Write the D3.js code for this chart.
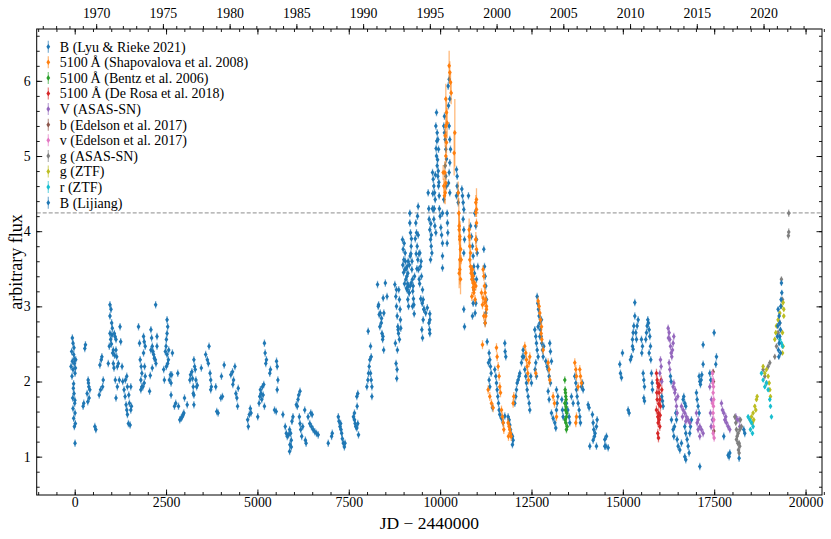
<html>
<head>
<script src="https://d3js.org/d3.v7.min.js"></script>
<style>
  body { margin: 0; background: #fff; }
  svg text { font-family: "Liberation Serif", "DejaVu Serif", serif; fill: #000; }
  .axis path { display: none; }
  .axis line { stroke: #000; stroke-width: 0.9; }
  .axis text { font-size: 13.8px; }
</style>
</head>
<body>
<div id="chart"></div>
<script>
// [JD - 2440000, flux, (optional error)]
const bLyu = [
  [-64,2.58],[-46,2.51],[-83,2.40],[-28,2.36],[-64,2.27],[-101,2.20],[-9,2.24],[-46,2.16],[9,2.11],[-74,2.07],[28,2.29],
  [-37,1.91],[-18,1.84],[-55,1.78],[0,1.71],[-46,1.64],[9,1.58],[-28,1.51],[18,1.44],[-9,1.40],[9,1.18],
  [-20,2.45],[-5,2.30],[20,2.18],[-30,1.97],[5,1.75],
  [230,1.67],[248,1.71],[294,2.49],[276,2.44],
  [368,2.02],[386,1.93],[340,1.84],[395,1.78],[358,1.73],[414,1.89],[377,1.98],
  [551,1.40],[579,1.36],
  [671,1.82],[708,1.89],[689,2.22],[726,2.29],[744,2.33],[763,1.93],[781,2.02],
  [919,2.24],[947,2.47],[965,2.64],[965,2.87],[965,3.02],[993,2.96],[1011,2.78],[984,2.56],[1029,2.71],[1057,2.42],
  [1084,2.64],[1057,2.24],[1103,2.60],[1038,2.38],[1075,2.18],[1130,2.42],[1149,2.33],[1130,2.56],[1167,2.20],[1195,2.24],
  [1222,2.02],[1112,2.02],[1130,1.78],[1167,1.93],[1241,2.73],[1259,2.53],[1296,2.20],[1314,2.00],[1351,1.89],[1379,1.80],
  [1406,1.69],[1425,1.62],[1443,1.56],[1470,1.44],[1516,1.42],[1388,2.02],[1443,1.93],[1480,1.82],[1498,1.71],[1535,1.62],
  [1553,1.67],[1535,1.93],[1425,2.07],[1005,2.50],[1020,2.62],[1090,2.35],
  [1746,2.73],[1774,2.51],[1792,2.29],[1820,2.20],[1838,2.11],[1810,2.02],[1866,1.93],
  [1884,2.60],[1902,2.53],[1930,2.47],[1884,2.38],[1912,2.20],[1930,2.07],[1902,1.98],[1838,1.93],[1810,1.89],
  [2049,1.87],[2068,2.08],
  [2086,2.69],[2105,2.58],[2123,2.47],[2086,2.42],[2141,2.40],[2160,2.36],[2178,2.31],[2206,2.29],[2224,2.24],
  [2215,3.02],[2123,2.18],[2252,2.47],[2252,2.60],
  [2435,2.16],[2454,2.02],
  [2481,2.40],[2500,2.47],[2509,2.56],[2527,2.64],[2527,2.82],[2545,2.73],[2527,2.36],[2564,2.29],[2573,2.42],[2545,2.24],[2509,2.20],
  [2619,2.09],[2591,2.02],[2637,1.98],[2655,2.09],[2637,1.82],[2674,2.38],
  [2730,1.67],[2765,1.71],[2821,2.11],[2840,1.67],[2876,1.49],[2913,1.51],[2940,1.53],[2968,1.56],[2987,1.58],[3005,1.78],[3079,1.69],
  [3152,2.02],[3170,2.09],[3207,2.13],[3225,2.04],[3244,1.93],[3244,1.84],[3262,1.82],[3262,1.69],
  [3262,2.29],[3281,2.20],[3299,2.16],[3317,2.02],[3336,1.93],[3354,1.95],
  [3465,2.18],
  [3584,2.36],[3630,2.29],[3676,2.47],[3658,2.24],[3704,2.11],[3722,2.02],[3722,1.89],[3740,1.93],
  [3860,1.93],[3887,1.60],[3924,1.58],[3998,1.78],[4043,1.80],[4016,2.07],[4090,2.22],
  [4273,2.09],[4319,2.13],[4347,2.02],[4384,2.20],[4328,1.96],[4411,1.84],[4438,1.78],[4457,1.67],[4475,1.91],
  [4733,1.49],[4751,1.40],[4779,1.56],[4806,1.64],[4825,1.58],
  [5009,1.53],[5046,1.71],[5064,1.80],[5082,1.89],[5101,1.84],[5119,1.76],[5137,1.93],[5156,1.82],[5174,1.96],[5192,1.67],
  [5192,2.51],[5211,2.38],[5229,2.24],[5247,2.29],
  [5339,2.11],[5357,2.16],
  [5468,1.62],[5514,1.60],[5523,2.27],[5541,2.20],[5560,2.02],[5541,1.89],
  [5698,1.56],
  [5762,1.40],[5790,1.31],[5817,1.27],[5854,1.29],[5881,1.36],[5909,1.31],[5927,1.22],[5890,1.16],[5927,1.13],[5881,1.07],
  [5945,1.47],[5973,1.53],
  [6065,1.69],[6093,1.67],[6111,1.76],[6130,1.82],[6166,1.87],
  [6148,1.53],[6166,1.44],[6185,1.36],[6212,1.27],[6240,1.40],[6295,1.62],[6313,1.22],[6332,1.18],
  [6387,1.53],[6433,1.44],[6479,1.40],[6525,1.36],[6571,1.33],[6617,1.31],[6663,1.29],[6460,1.58],[6497,1.56],
  [6938,1.18],[7030,1.27],[7048,1.31],
  [7214,1.53],[7232,1.47],[7259,1.40],[7287,1.36],[7305,1.31],[7324,1.24],[7351,1.18],[7380,1.13],[7278,1.44],[7397,1.18],
  [7628,1.53],[7656,1.49],[7674,1.44],[7692,1.40],[7720,1.38],[7747,1.44],[7766,1.29],[7656,1.58],[7720,1.80],[7747,1.84],[7729,1.67],
  [7995,1.93],[8023,2.02],[8041,2.11],[8059,2.20],[8077,2.29],[8096,2.11],[8114,2.02],[8133,1.93],[8031,2.67],[8096,2.47],[8114,2.33],[8133,1.80],
  [8317,3.02],[8363,2.91],[8390,2.78],[8409,2.64],[8427,2.56],[8455,2.42],[8436,2.60],
  [8501,3.31],[8547,3.13],
  [8776,2.51],[8794,2.24],[8822,2.16],[8813,2.04],[8831,2.42],[8850,2.69],
  [8868,3.22],[8886,3.09],[8904,2.96],[8914,2.82],[8886,2.56],[8923,2.71],
  [8287,3.29],[8306,3.00],[8333,2.89],[8351,2.73],[8397,2.84],[8442,3.11],[8460,2.91],
  [8761,3.29],[8788,3.13],[8806,3.00],[8825,2.87],[8843,2.73],[8861,2.64],[8806,3.22],
  [8971,3.89],[8989,3.76],[9007,3.62],[9034,3.49],[9062,3.36],[9080,3.24],[9016,3.84],[9043,3.71],[9098,3.53],[9117,3.44],
  [9135,3.27],[9153,3.18],[9171,4.24],[9171,4.11],[9189,3.98],[9208,3.80],[9180,3.67],[9226,3.49],[9244,3.36],[9262,3.27],
  [9281,3.02],[9244,3.00],[9098,3.22],[9116,3.09],[9135,3.00],[9153,3.18],[9180,3.27],[9208,3.31],
  [8980,3.55],[9000,3.45],[9025,3.30],[9050,3.60],[9070,3.50],[9090,3.40],[9110,3.30],[9125,3.60],[9160,3.55],[9200,3.70],
  [9215,3.90],[9230,3.60],[9250,3.20],[9270,3.10],[9290,2.90],[9300,3.40],[9320,3.90],[9345,3.70],[9365,3.50],[9400,3.95],
  [9420,3.70],[9440,3.30],[9470,3.10],[9480,3.60],
  [9335,4.11],[9354,3.98],[9372,3.80],[9390,3.62],[9408,3.49],[9427,3.36],[9399,4.33],[9381,4.20],[9445,3.71],[9463,3.53],
  [9490,3.40],[9518,3.22],[9536,3.09],[9554,2.96],[9536,2.82],[9500,2.69],[9518,2.58],
  [9511,3.04],[9558,2.96],[9605,2.91],[9650,2.98],[9694,2.78],[9710,2.69],[9720,2.82],
  [9673,4.51],[9700,4.16],[9718,4.02],[9738,3.89],[9756,3.80],[9774,3.71],[9738,3.62],[9718,2.64],[9718,2.90],
  [9690,4.30],[9745,4.10],[9760,3.95],[9790,4.30],[9800,4.50],[9840,4.30],[9870,4.75],[9890,5.10],[9910,5.20],[9930,4.95],
  [9950,4.80],[9965,4.65],[9980,4.30],[10000,4.20],[10020,4.05],[10040,3.95],
  [9792,4.78],[9810,4.69],[9828,4.60],[9847,4.51],[9865,4.42],[9810,4.29],[9828,4.16],[9856,4.07],[9883,3.98],
  [9883,5.40],[9901,5.58],[9919,5.31],[9938,5.22],[9956,5.09],[9901,5.00],[9919,4.87],[9938,4.73],[9956,4.60],[9974,4.47],
  [10065,4.24],[10065,3.84],[10065,3.67],[10065,3.51],
  [10101,5.40],[10119,5.31],[10138,5.22],[10156,5.09],[10174,4.96],[10138,4.87],[10156,4.73],[10174,4.60],[10119,5.53],[10101,4.42],
  [10192,4.24],[10201,4.11],[10210,3.98],[10192,3.84],
  [10220,5.93],[10247,6.02],[10265,5.76],[10229,5.67],[10247,5.40],[10265,5.22],[10284,5.09],[10265,4.91],[10247,4.78],[10229,4.64],[10265,4.51],
  [10448,4.82],[10466,4.73],[10466,4.60],[10448,4.47],[10494,4.51],[10494,4.38],
  [10594,4.56],[10612,4.47],[10630,4.38],[10648,4.29],[10630,4.16],[10648,4.02],[10667,3.89],[10648,3.71],
  [10776,4.47],
  [10831,4.07],[10858,3.93],[10885,3.80],[10904,3.67],[10922,3.53],[10940,3.44],[10904,3.36],[10922,3.22],
  [10949,4.24],[10977,4.07],[10995,3.89],[11013,3.71],[11031,3.53],[10995,3.36],[10977,3.04],[10958,2.91],[10904,3.04],
  [11196,3.76],[11214,3.53],[11232,3.40],[11250,3.27],[11269,3.09],[11250,2.91],[11232,2.78],
  [10648,2.96],[10667,2.73],[10885,2.87],
  [11287,2.53],[11341,2.38],[11360,2.29],[11378,2.20],[11396,2.11],[11341,2.02],[11360,1.93],[11323,2.25],
  [11432,1.65],
  [11496,2.16],[11524,2.07],[11542,1.98],[11560,1.89],[11578,1.80],[11597,1.71],[11615,1.62],
  [11633,1.56],[11679,1.51],[11725,1.45],[11770,1.54],
  [11770,2.51],[11779,2.40],[11797,2.33],
  [11861,1.53],[11888,1.49],[11907,1.42],[11925,1.36],[11952,1.29],[11979,1.27],[11998,1.22],[11979,1.16],
  [12044,1.71],[12071,1.80],[12089,1.89],[12107,1.98],[12135,2.02],[12162,2.07],[12180,2.11],
  [12226,2.25],[12253,2.33],[12272,2.42],[12290,2.33],[12317,2.16],[12344,2.07],[12363,1.98],[12381,1.89],[12408,1.80],[12436,1.71],[12454,1.62],
  [12481,2.07],[12500,1.98],
  [12591,2.69],[12618,2.60],[12636,2.51],[12655,2.42],[12682,2.33],[12618,2.25],[12600,2.16],[12636,2.07],
  [12655,3.13],[12673,3.04],[12691,2.96],[12709,2.87],[12728,2.78],[12746,2.69],[12764,2.60],[12782,2.51],[12801,2.42],
  [12819,2.33],[12837,2.47],[12773,2.82],[12728,2.60],[12682,2.73],
  [12892,2.27],[12928,2.20],[12956,2.16],[12983,2.07],[13019,1.98],[13047,2.27],[13001,2.51],[13019,2.40],
  [12956,1.87],[12983,1.76],
  [13047,1.58],[13092,1.51],[13138,1.45],[13165,1.38],[13184,1.62],[13202,1.71],[13184,1.89],[13220,1.80],
  [13330,1.76],[13348,1.62],[13366,1.53],
  [13457,1.71],[13494,1.62],[13530,1.53],[13548,1.45],
  [13594,1.80],[13640,1.71],
  [13685,2.07],[13713,1.98],[13731,1.89],[13749,1.80],[13776,1.71],[13804,1.62],[13822,1.53],[13840,1.45],
  [13868,1.93],[13895,1.98],[13913,1.89],
  [14050,1.69],[14077,1.65],
  [14168,1.56],[14187,1.45],[14205,1.36],[14223,1.27],[14241,1.31],[14278,1.40],[14296,1.49],
  [14096,1.14],[14187,1.22],[14278,1.14],
  [14506,1.14],[14552,1.27],[14507,1.23],[14534,1.14],[14598,1.12],
  [14917,2.23],[14935,2.11],[14963,2.05],[14990,2.38],
  [15145,1.62],[15172,1.58],
  [15209,2.29],[15236,2.33],[15264,2.47],[15282,2.65],[15300,2.74],[15328,2.87],[15328,3.05],[15355,2.65],[15373,2.56],
  [15391,2.74],[15419,2.82],[15264,2.56],[15282,2.43],
  [15510,2.56],[15537,2.47],[15519,2.38],
  [15556,2.11],[15574,2.02],[15592,1.93],[15574,1.78],[15592,1.74],
  [15628,2.56],[15647,2.65],[15665,2.74],[15683,2.82],[15701,2.78],[15720,2.69],[15738,2.60],[15756,2.47],[15720,2.38],[15765,2.29],
  [15784,2.11],[15802,1.98],[15811,1.89],
  [16066,1.80],[16085,1.74],[16103,1.67],
  [16303,2.07],[16322,2.00],
  [16331,1.49],[16376,1.36],[16395,1.27],[16413,1.40],
  [16450,1.58],[16468,1.49],
  [16486,1.23],[16513,1.14],[16559,1.09],[16604,1.18],
  [16650,1.76],[16668,1.80],[16695,1.71],[16723,1.67],
  [16695,1.40],[16723,1.31],[16759,1.23],[16787,1.14],[16814,1.05],[16832,1.31],[16851,1.40],[16878,1.49],
  [16695,1.00],[16723,0.96],
  [17014,1.85],[17033,1.76],[17060,1.67],[17088,1.58],
  [17088,2.07],[17106,2.00],[17124,1.96],[17143,2.02],[17161,2.09],[17197,2.23],
  [17106,0.87],[17197,2.49],
  [17380,2.11],[17407,2.02],[17498,2.65],[17544,2.23],[17562,2.33],
  [17763,1.27],[17881,1.02],[17908,1.00],[17927,1.05],[18182,0.98],[18310,1.36],[18337,1.31]
];

const shapovalova = [
  [10156,5.76,0.2],[10174,5.58,0.2],[10192,5.44,0.2],[10156,5.40,0.15],[10138,5.27,0.15],[10174,5.18,0.15],[10156,5.00,0.15],
  [10128,4.78,0.15],[10156,4.64,0.15],[10138,4.51,0.15],
  [10247,6.20,0.2],[10265,6.11,0.15],[10284,5.98,0.15],[10302,5.84,0.15],
  [10402,5.31,0.45],[10384,5.04,0.3],
  [10083,4.78,0.1],[10101,4.60,0.1],[10119,4.47,0.1],
  [10494,4.51,0.15],[10512,4.24,0.2],
  [10521,4.07,0.2],[10539,3.89,0.25],[10558,3.76,0.2],[10539,3.62,0.2],[10521,3.44,0.2],
  [10794,3.93,0.15],[10812,3.80,0.15],
  [10831,3.53,0.1],[10849,3.44],[10867,3.36],[10885,3.49],[10904,3.40],[10940,3.31],[10922,3.18],[10958,3.09],[10977,3.27],
  [10977,4.38,0.1],[10995,4.29,0.1],[10977,3.89,0.1],
  [11177,3.49],[11196,3.40],[11214,3.27],[11232,3.18],[11250,3.09],[11269,3.00],[11250,2.87],[11232,2.78],
  [10521,4.02,0.2],[10539,3.93,0.2],[10558,3.76],[10576,3.62],[10539,3.49,0.2],[10558,3.36,0.2],
  [10794,4.02,0.15],[10812,3.93],[10831,3.71],[10812,3.62],
  [10858,3.49],[10885,3.40],[10904,3.31],[10922,3.22],[10867,3.13],[10904,3.25],
  [10995,4.42,0.15],[10977,4.25],[10995,4.11],[10977,3.89],[10995,3.76],
  [11132,3.18],[11177,3.11],[11223,3.05],[11268,2.96],[11196,2.87],[11159,3.02],
  [11159,2.49],
  [11314,1.89],[11360,1.80],[11405,1.71],[11451,1.65],
  [11542,2.45],[11560,2.33],[11588,2.20],[11615,2.07],[11633,1.93],[11652,1.85],
  [11679,1.62],[11706,1.53],[11725,1.45],[11743,1.36],
  [11861,1.45],[11888,1.40],[11907,1.36],[11925,1.31],[11943,1.27],[11870,1.27],
  [11998,1.71],[12016,1.80],
  [12317,2.47],[12344,2.38],[12363,2.29],[12381,2.20],[12399,2.11],[12417,2.02],[12436,2.25],[12454,2.33],
  [12618,2.11],
  [12682,3.07],[12709,3.00],[12728,2.91],[12746,2.82],[12773,2.73],[12764,2.64],[12782,2.56],[12819,2.42],
  [12956,2.25],[12983,2.16],[13001,2.02],
  [13092,1.80],[13129,1.71],[13184,1.53],
  [13685,2.25],[13713,2.16],[13731,2.07],[13776,1.93],[13822,2.16],[13840,2.07],[13868,1.98],
  [13731,1.53],[13713,1.45]
];

const bentz = [
  [13412,2.02],[13421,1.89],[13440,1.80],[13412,1.71],[13430,1.62],[13457,1.53],[13440,1.45],[13457,1.36],
  [13476,1.40],[13421,1.49],[13448,1.76],[13466,1.58],[13430,1.85],[13448,1.66]
];

const deRosa = [
  [15920,2.11],[15939,2.02],[15966,1.93],[15993,1.85],[16012,1.76],[16030,1.67],[15975,1.58],[15993,1.49],[16012,1.40],
  [15957,1.31],[15975,1.25],[16048,2.02],[16066,1.89],[15939,1.76],[15920,1.62],[15957,1.53],[15948,1.98],[15984,1.70],
  [16003,1.95],[15966,1.45],[16021,1.55],[15930,1.85]
];

const vAsassn = [
  [16030,2.29],[16048,2.20],[16012,2.11],[16066,2.00],
  [16240,2.71],[16267,2.65],[16285,2.56],[16303,2.47],[16322,2.38],[16340,2.33],[16358,2.42],[16376,2.51],[16395,2.60],[16249,2.58],
  [16267,2.25],[16285,2.16],
  [16376,1.93],[16422,1.85],[16450,1.76],[16468,1.67],[16486,1.58],[16431,1.89],[16395,1.98],[16504,1.80],
  [16604,1.67],[16650,1.62],[16695,1.58],[16741,1.53],[16787,1.49],[16832,1.45],[16632,1.53],[16723,1.47],
  [17014,1.58],[17060,1.49],[17106,1.40],[17152,1.36],[17197,1.31],[17060,1.36],[17106,1.27],[17033,1.45],
  [17380,1.93],[17425,1.76],[17398,1.58],[17453,1.49],[17416,1.40],
  [17699,1.71],[17726,1.62],[17763,1.58],[17790,1.49],[17836,1.45],[17881,1.40],[17927,1.36],[17817,1.53],
  [18091,1.53],[18127,1.49],[18182,1.49],[18200,1.40]
];

const bEdelson = [[17471,2.13],[17489,1.34],[17480,2.00]];

const vEdelson = [
  [17453,2.11],[17471,2.02],[17480,1.93],[17471,1.85],[17489,1.76],[17480,1.67],[17471,1.58],[17489,1.49],
  [17480,1.40],[17471,1.31],[17498,1.25],[17462,1.98],[17453,1.71]
];

const gAsassn = [
  [18064,1.53],[18091,1.45],[18109,1.36],[18127,1.27],[18146,1.18],[18164,1.09],[18182,1.05],[18200,1.14],[18155,1.31],
  [18200,1.36],[18219,1.49],[18246,1.40],[18109,1.23],[18182,1.18],
  [18839,2.16],[18885,2.07],[18931,1.98],[18976,2.20],[19022,2.25],
  [19158,2.33],[19204,2.47],[19249,2.65],[19295,2.78],[19340,3.36],[19368,3.09],
  [19540,4.24,0.05],[19540,3.99,0.05],[19530,3.94,0.05]
];

const gZtf = [
  [18520,1.53],[18565,1.58],[18611,1.67],[18657,1.76],[18675,1.80],[18638,1.62],[18583,1.49],[18547,1.45],
  [18839,2.20],[18885,2.11],[18931,2.16],[18976,2.07],[19004,1.98],[19022,1.89],[19040,1.80],
  [19158,2.56],[19186,2.65],[19204,2.74],[19249,2.82],[19295,2.91],[19340,3.00],[19386,3.05],[19404,2.87],
  [19368,2.65],[19386,2.47],[19368,2.38],[19404,2.96]
];

const rZtf = [
  [18428,1.53],[18474,1.49],[18520,1.45],[18565,1.40],[18492,1.36],[18547,1.31],
  [18793,2.11],[18839,2.02],[18885,1.93],[18931,1.98],[18976,1.89],[19022,1.76],[19040,1.67],[19067,1.53],
  [19295,2.56],[19340,2.51],[19368,2.47]
];

const bLijiang = [
  [19249,2.96],[19277,2.87],[19295,2.78],[19313,2.69],[19331,3.09],[19350,3.18],[19340,3.31],[19322,3.00],
  [19295,2.60],[19277,2.51],[19258,2.42],[19240,2.74],[19313,2.38],[19230,2.60],[19268,2.33]
];

const seriesLabels = [
  'B (Lyu & Rieke 2021)',
  '5100\u2009Å (Shapovalova et al. 2008)',
  '5100\u2009Å (Bentz et al. 2006)',
  '5100 Å (De Rosa et al. 2018)',
  'V (ASAS-SN)',
  'b (Edelson et al. 2017)',
  'v (Edelson et al. 2017)',
  'g (ASAS-SN)',
  'g (ZTF)',
  'r (ZTF)',
  'B (Lijiang)'
];
const seriesData = [bLyu, shapovalova, bentz, deRosa, vAsassn, bEdelson, vEdelson, gAsassn, gZtf, rZtf, bLijiang];
const seriesErr = [0.05, 0.06, 0.05, 0.06, 0.05, 0.04, 0.05, 0.04, 0.03, 0.03, 0.04];
const colors = ['#1f77b4','#ff7f0e','#2ca02c','#d62728','#9467bd','#8c564b','#e377c2','#7f7f7f','#bcbd22','#17becf','#1f77b4'];

const xLim = [-1040, 20450];
const yLim = [0.49, 6.69];
const refLevel = 4.243;
const yearTicks = d3.range(1966, 2024);
const yearLabels = d3.range(1970, 2021, 5);

const width = 831, height = 539;
const margin = { top: 29, right: 9, bottom: 44, left: 36.7 };
const iw = width - margin.left - margin.right;
const ih = height - margin.top - margin.bottom;

const x = d3.scaleLinear().domain(xLim).range([0, iw]);
const y = d3.scaleLinear().domain(yLim).range([ih, 0]);
const yearToJd = yr => (yr - 1970) * 365.25 + 587.5;

const svg = d3.select('#chart').append('svg')
    .attr('width', width)
    .attr('height', height);
const g = svg.append('g').attr('transform', `translate(${margin.left},${margin.top})`);

// clip to axes area
svg.append('defs').append('clipPath').attr('id', 'clip')
  .append('rect').attr('width', iw).attr('height', ih);

// reference dashed line
g.append('line')
  .attr('x1', 0).attr('x2', iw)
  .attr('y1', y(refLevel)).attr('y2', y(refLevel))
  .attr('stroke', '#8c8c8c').attr('stroke-width', 1)
  .attr('stroke-dasharray', '4,2');

// data
const diamond = (cx, cy) => `M${cx},${cy - 2.8}L${cx + 1.9},${cy}L${cx},${cy + 2.8}L${cx - 1.9},${cy}Z`;
const plot = g.append('g').attr('clip-path', 'url(#clip)');
seriesData.forEach((data, i) => {
  const s = plot.append('g');
  s.selectAll('line').data(data).join('line')
    .attr('x1', d => x(d[0])).attr('x2', d => x(d[0]))
    .attr('y1', d => y(d[1] - (d[2] || seriesErr[i])))
    .attr('y2', d => y(d[1] + (d[2] || seriesErr[i])))
    .attr('stroke', colors[i]).attr('stroke-opacity', 0.55).attr('stroke-width', 1.3);
  s.selectAll('path').data(data).join('path')
    .attr('d', d => diamond(x(d[0]), y(d[1])))
    .attr('fill', colors[i]);
});

// axes, ticks pointing inward
const minorX = d3.range(-1000, 20501, 500);
const minorY = d3.range(0.6, 6.61, 0.2);

g.append('g').attr('class', 'axis').attr('transform', `translate(0,${ih})`)
  .call(d3.axisBottom(x).tickValues(d3.range(0, 20001, 2500)).tickSize(-5.5).tickPadding(2.5).tickFormat(d3.format('d')));
g.append('g').attr('class', 'axis').attr('transform', `translate(0,${ih})`)
  .call(d3.axisBottom(x).tickValues(minorX).tickSize(-3).tickFormat(''));
g.append('g').attr('class', 'axis')
  .call(d3.axisTop(x).tickValues(d3.range(0, 20001, 2500)).tickSize(-5.5).tickFormat(''));
g.append('g').attr('class', 'axis')
  .call(d3.axisTop(x).tickValues(minorX).tickSize(-3).tickFormat(''));

// top year axis, ticks outward
g.append('g').attr('class', 'axis')
  .call(d3.axisTop(x).tickValues(yearLabels.map(yearToJd)).tickSize(5).tickPadding(6)
    .tickFormat(v => Math.round((v - 587.5) / 365.25 + 1970)));
g.append('g').attr('class', 'axis')
  .call(d3.axisTop(x).tickValues(yearTicks.map(yearToJd)).tickSize(3).tickFormat(''));

g.append('g').attr('class', 'axis')
  .call(d3.axisLeft(y).tickValues(d3.range(1, 7)).tickSize(-5.5).tickPadding(6).tickFormat(d3.format('d')));
g.append('g').attr('class', 'axis')
  .call(d3.axisLeft(y).tickValues(minorY).tickSize(-3).tickFormat(''));
g.append('g').attr('class', 'axis').attr('transform', `translate(${iw},0)`)
  .call(d3.axisRight(y).tickValues(d3.range(1, 7)).tickSize(-5.5).tickFormat(''));
g.append('g').attr('class', 'axis').attr('transform', `translate(${iw},0)`)
  .call(d3.axisRight(y).tickValues(minorY).tickSize(-3).tickFormat(''));

// frame
g.append('rect').attr('width', iw).attr('height', ih)
  .attr('fill', 'none').attr('stroke', '#000').attr('stroke-width', 1);

// axis labels
svg.append('text')
  .attr('x', margin.left + iw / 2).attr('y', 529)
  .attr('text-anchor', 'middle').style('font-size', '17.5px')
  .text('JD \u2212 2440000');
svg.append('text')
  .attr('transform', `translate(22,${margin.top + ih / 2}) rotate(-90)`)
  .attr('text-anchor', 'middle').style('font-size', '18px')
  .text('arbitrary flux');

// legend
const legend = g.append('g').attr('transform', 'translate(11.6,17.7)');
seriesLabels.forEach((lab, i) => {
  const row = legend.append('g').attr('transform', `translate(0,${i * 15.6})`);
  row.append('line').attr('x1', 0).attr('x2', 0).attr('y1', -6).attr('y2', 6)
    .attr('stroke', colors[i]).attr('stroke-opacity', 0.55).attr('stroke-width', 1.3);
  row.append('path').attr('d', diamond(0, 0)).attr('fill', colors[i]);
  row.append('text').attr('x', 11.5).attr('y', 0).attr('dy', '0.35em')
    .style('font-size', '14px').text(lab);
});
</script>
</body>
</html>
